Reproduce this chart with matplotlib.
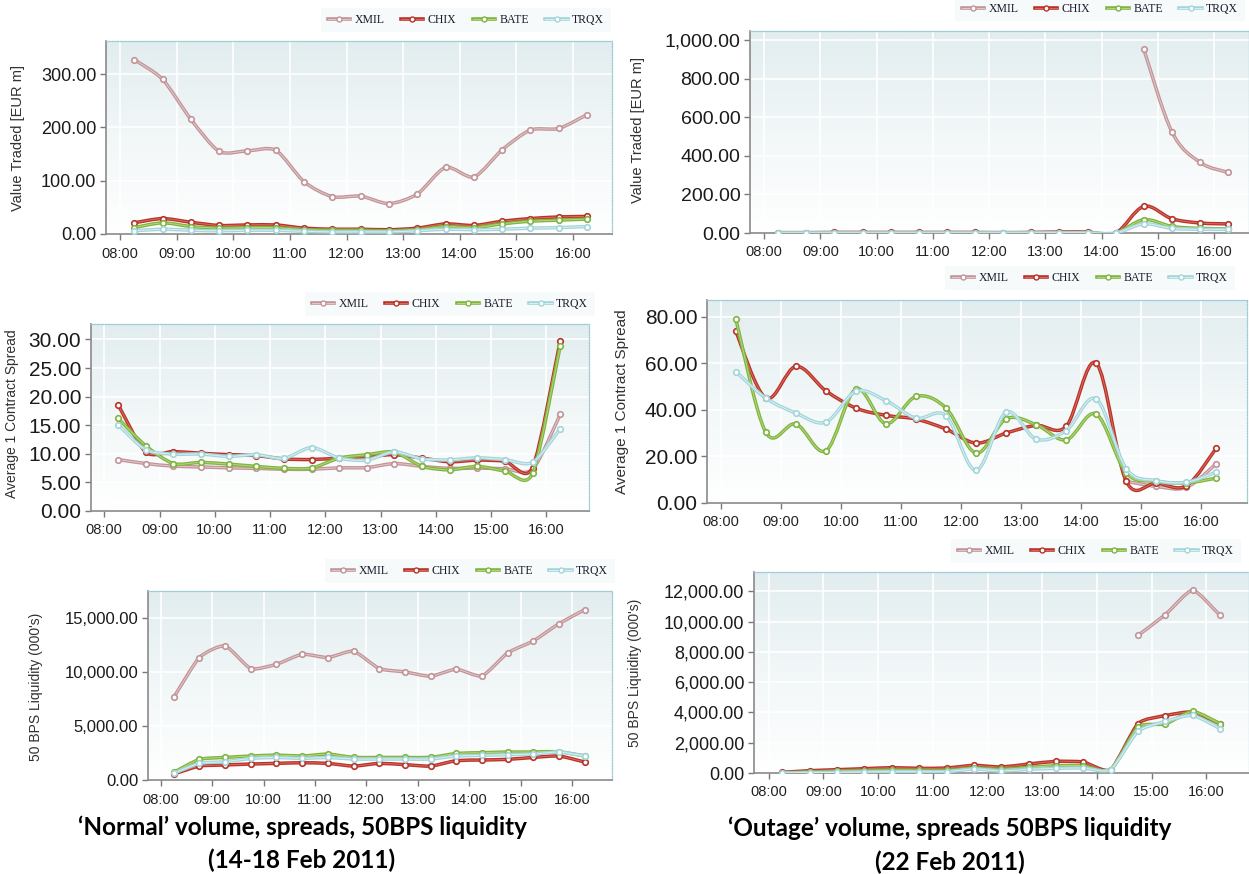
import numpy as np
import matplotlib
matplotlib.use("Agg")
import matplotlib.pyplot as plt
from matplotlib.path import Path
from matplotlib.patches import PathPatch
from matplotlib.lines import Line2D
from matplotlib.colors import LinearSegmentedColormap

# ---------------- data ----------------
times = [8.25, 8.75, 9.25, 9.75, 10.25, 10.75, 11.25, 11.75, 12.25,
         12.75, 13.25, 13.75, 14.25, 14.75, 15.25, 15.75, 16.25]
hour_ticks = [8, 9, 10, 11, 12, 13, 14, 15, 16]
hour_labels = ["08:00", "09:00", "10:00", "11:00", "12:00", "13:00", "14:00", "15:00", "16:00"]
series_names = ["XMIL", "CHIX", "BATE", "TRQX"]

# Value traded (EUR m) - normal week
vt_norm_xmil = [327, 290, 215, 155, 156, 157, 98, 70, 71, 57, 75, 125, 107, 158, 195, 198, 224]
vt_norm_chix = [21, 29, 22, 16, 17, 17, 11, 9, 9, 8, 11, 19, 16, 24, 29, 32, 33]
vt_norm_bate = [12, 21, 14, 11, 12, 12, 8, 7, 7, 6, 8, 14, 12, 19, 24, 26, 28]
vt_norm_trqx = [6, 9, 7, 6, 7, 7, 5, 4, 4, 4, 6, 9, 8, 9, 11, 12, 14]

# Value traded (EUR m) - outage day
vt_out_xmil = [None] * 13 + [952, 524, 366, 314]
vt_out_chix = [2, 2, 3, 3, 3, 3, 3, 3, 2, 3, 5, 5, 0, 138, 74, 52, 47]
vt_out_bate = [1, 1, 1, 1, 1, 1, 1, 1, 1, 1, 2, 2, 0, 69, 34, 24, 22]
vt_out_trqx = [0.5, 0.5, 0.5, 0.5, 0.5, 0.5, 0.5, 0.5, 0.5, 0.5, 1, 1, 0, 47, 24, 19, 19]

# Average 1 contract spread - normal week
sp_norm_xmil = [9.0, 8.3, 7.85, 7.7, 7.55, 7.45, 7.3, 7.3, 7.55, 7.6, 8.3, 7.8, 7.45, 7.5, 7.4, 7.3, 16.9]
sp_norm_chix = [18.6, 10.3, 10.4, 10.1, 9.85, 9.7, 9.1, 9.0, 9.25, 9.5, 9.85, 9.25, 8.6, 8.9, 8.7, 7.6, 29.8]
sp_norm_bate = [16.2, 11.4, 8.3, 8.5, 8.2, 7.8, 7.45, 7.5, 9.25, 9.85, 10.3, 7.8, 7.2, 7.8, 7.0, 6.6, 28.9]
sp_norm_trqx = [15.1, 10.7, 9.95, 9.95, 9.55, 9.85, 9.2, 11.1, 9.25, 8.9, 10.35, 9.1, 8.95, 9.3, 9.0, 8.5, 14.4]

# Average 1 contract spread - outage day
sp_out_xmil = [None] * 13 + [9.3, 7.1, 6.7, 16.9]
sp_out_chix = [73.6, 45, 58.6, 48.1, 40.7, 37.6, 36, 31.7, 25.7, 30, 33.3, 32.9, 60, 9.3, 8.6, 7.4, 23.6]
sp_out_bate = [78.9, 30.3, 33.9, 22.4, 48.9, 34, 45.7, 40.7, 21.4, 36.1, 33.6, 27.1, 38.1, 12.9, 9.3, 8.6, 10.7]
sp_out_trqx = [56.4, 45, 38.6, 34.7, 47.9, 43.9, 36.4, 37.4, 14, 38.9, 27.4, 31.1, 44.6, 14.7, 9.6, 8.9, 13.3]

# 50 BPS liquidity (000's) - normal week
lq_norm_xmil = [7640, 11340, 12410, 10320, 10720, 11640, 11340, 11920, 10320, 10010, 9610, 10260, 9640, 11770, 12880, 14480, 15770]
lq_norm_chix = [550, 1290, 1390, 1480, 1540, 1600, 1540, 1290, 1540, 1420, 1290, 1790, 1850, 1910, 2090, 2220, 1660]
lq_norm_bate = [710, 1910, 2090, 2220, 2310, 2220, 2400, 2090, 2090, 2090, 2090, 2460, 2530, 2590, 2590, 2620, 2220]
lq_norm_trqx = [620, 1540, 1690, 2000, 2090, 2000, 2090, 1940, 1940, 1940, 1940, 2220, 2280, 2340, 2400, 2590, 2220]

# 50 BPS liquidity (000's) - outage day
lq_out_xmil = [None] * 13 + [9090, 10460, 12070, 10410]
lq_out_chix = [44, 154, 220, 286, 352, 308, 330, 506, 396, 594, 770, 726, 220, 3260, 3790, 4030, 3240]
lq_out_bate = [22, 66, 110, 154, 198, 176, 176, 330, 242, 374, 484, 484, 198, 3040, 3240, 4070, 3260]
lq_out_trqx = [0, 22, 44, 66, 88, 88, 88, 264, 132, 242, 308, 330, 220, 2750, 3410, 3810, 2930]

# ---------------- style ----------------
W, H = 1249, 874
outer = {"XMIL": "#C29498", "CHIX": "#B8332A", "BATE": "#80B440", "TRQX": "#A3D5DA"}
inner = {"XMIL": "#E2C8CA", "CHIX": "#DB6A5C", "BATE": "#B4D77A", "TRQX": "#D8F0F2"}

fig = plt.figure(figsize=(W / 100, H / 100), dpi=100)
bg_cmap = LinearSegmentedColormap.from_list("bg", ["#FFFFFF", "#F2F7F8", "#E2EDEF"])


def make_ax(l, r, t, b):
    return fig.add_axes([l / W, 1 - b / H, (r - l) / W, (b - t) / H])


def smooth_path(xs, ys, s):
    n = len(xs)
    verts = [(xs[0], ys[0])]
    codes = [Path.MOVETO]
    for i in range(n - 1):
        p0 = (xs[i - 1], ys[i - 1]) if i > 0 else (xs[i], ys[i])
        p1 = (xs[i], ys[i])
        p2 = (xs[i + 1], ys[i + 1])
        p3 = (xs[i + 2], ys[i + 2]) if i + 2 < n else p2
        c1 = (p1[0] + s * (p2[0] - p0[0]) / 6, p1[1] + s * (p2[1] - p0[1]) / 6)
        c2 = (p2[0] - s * (p3[0] - p1[0]) / 6, p2[1] - s * (p3[1] - p1[1]) / 6)
        verts += [c1, c2, p2]
        codes += [Path.CURVE4] * 3
    return Path(verts, codes)


def draw_series(ax, name, values, s, z):
    segs, cur = [], []
    for x, v in zip(times, values):
        if v is None:
            if cur:
                segs.append(cur)
            cur = []
        else:
            cur.append((x, v))
    if cur:
        segs.append(cur)
    for seg in segs:
        xs = [p[0] for p in seg]
        ys = [p[1] for p in seg]
        if len(xs) > 1:
            path = smooth_path(xs, ys, s)
            ax.add_patch(PathPatch(path, fc="none", ec=outer[name], lw=2.5,
                                   capstyle="round", joinstyle="round", zorder=z))
            ax.add_patch(PathPatch(path, fc="none", ec=inner[name], lw=0.7,
                                   capstyle="round", joinstyle="round", zorder=z + 0.1))
        ax.plot(xs, ys, ls="none", marker="o", ms=4.0, mfc="white",
                mec=outer[name], mew=1.2, zorder=z + 0.2)


def setup(ax, xlim, ylim, yticks, ysize):
    ax.imshow(np.linspace(0, 1, 256).reshape(-1, 1), extent=[0, 1, 0, 1],
              transform=ax.transAxes, aspect="auto", cmap=bg_cmap,
              origin="lower", zorder=0)
    ax.set_xlim(*xlim)
    ax.set_ylim(*ylim)
    ax.set_xticks(hour_ticks)
    ax.set_xticklabels(hour_labels, fontsize=10.5, family="Liberation Sans", color="#222222")
    ax.set_yticks(yticks)
    ax.set_yticklabels([f"{v:,.2f}" for v in yticks], fontsize=ysize,
                       family="Liberation Sans", color="#1A1A1A")
    ax.grid(True, color="white", lw=1.2)
    ax.tick_params(axis="both", direction="out", length=4, width=1, color="#7A7A7A")
    ax.tick_params(axis="x", pad=5)
    ax.tick_params(axis="y", pad=3)
    for sp in ("left", "bottom"):
        ax.spines[sp].set_color("#8A8A8A")
        ax.spines[sp].set_linewidth(1.2)
    for sp in ("top", "right"):
        ax.spines[sp].set_color("#9CCAD2")
        ax.spines[sp].set_linestyle((0, (1, 1.2)))
        ax.spines[sp].set_linewidth(0.9)


def legend(cx, cy):
    handles = []
    for n in series_names:
        h1 = Line2D([], [], color=outer[n], lw=2.6)
        h2 = Line2D([], [], color=inner[n], lw=0.7, marker="o", ms=3.6,
                    mfc="white", mec=outer[n], mew=1.0)
        handles.append((h1, h2))
    fig.legend(handles, series_names, loc="center", bbox_to_anchor=(cx / W, 1 - cy / H),
               ncol=4, frameon=True, facecolor="#F6F9F9", edgecolor="none",
               fancybox=False, prop={"family": "Liberation Serif", "size": 8.5},
               handlelength=1.9, handletextpad=0.35, columnspacing=1.4,
               borderpad=0.55, labelcolor="#1A1A2A")


def ylabel(x, y, text, size):
    fig.text(x / W, 1 - y / H, text, rotation=90, ha="center", va="center",
             fontsize=size, family="Liberation Sans", color="#33302E")


panels = [
    # (l, r, t, b, xlim, ylim, yticks, ysize, data, smoothing)
    (106, 612, 41, 234, (7.75, 16.69), (0, 362), [0, 100, 200, 300], 13,
     [vt_norm_xmil, vt_norm_chix, vt_norm_bate, vt_norm_trqx], 0.8),
    (750, 1249, 31, 233, (7.75, 16.62), (0, 1047), [0, 200, 400, 600, 800, 1000], 14,
     [vt_out_xmil, vt_out_chix, vt_out_bate, vt_out_trqx], 1.0),
    (91, 589, 324, 511, (7.76, 16.77), (0, 32.7), [0, 5, 10, 15, 20, 25, 30], 15,
     [sp_norm_xmil, sp_norm_chix, sp_norm_bate, sp_norm_trqx], 0.8),
    (707, 1247, 300, 503, (7.77, 16.76), (0, 87.1), [0, 20, 40, 60, 80], 15,
     [sp_out_xmil, sp_out_chix, sp_out_bate, sp_out_trqx], 1.0),
    (148, 612, 591, 780, (7.75, 16.78), (0, 17500), [0, 5000, 10000, 15000], 12,
     [lq_norm_xmil, lq_norm_chix, lq_norm_bate, lq_norm_trqx], 0.6),
    (754, 1249, 572, 773, (7.73, 16.78), (0, 13280), [0, 2000, 4000, 6000, 8000, 10000, 12000], 13,
     [lq_out_xmil, lq_out_chix, lq_out_bate, lq_out_trqx], 0.6),
]

for (l, r, t, b, xl, yl, yt, ys, data, s) in panels:
    ax = make_ax(l, r, t, b)
    setup(ax, xl, yl, yt, ys)
    for k in range(4):
        draw_series(ax, series_names[k], data[k], s, 3 + k)

legend(466, 20)
legend(1100, 9)
legend(450, 304)
legend(1090, 278)
legend(470, 571)
legend(1096, 551)

ylabel(18, 138, "Value Traded [EUR m]", 10.5)
ylabel(638, 130, "Value Traded [EUR m]", 10.5)
ylabel(12, 414, "Average 1 Contract Spread", 10)
ylabel(622, 402, "Average 1 Contract Spread", 11)
ylabel(36, 687, "50 BPS Liquidity (000's)", 10)
ylabel(635, 673, "50 BPS Liquidity (000's)", 10)

cap = dict(ha="center", va="center", fontsize=17.5, family="Lato", weight="bold", color="black")
fig.text(302 / W, 1 - 827 / H, "\u2018Normal\u2019 volume, spreads, 50BPS liquidity", **cap)
fig.text(302 / W, 1 - 860 / H, "(14-18 Feb 2011)", **cap)
fig.text(950 / W, 1 - 828 / H, "\u2018Outage\u2019 volume, spreads 50BPS liquidity", **cap)
fig.text(950 / W, 1 - 862 / H, "(22 Feb 2011)", **cap)

fig.savefig("out.png", dpi=100)
